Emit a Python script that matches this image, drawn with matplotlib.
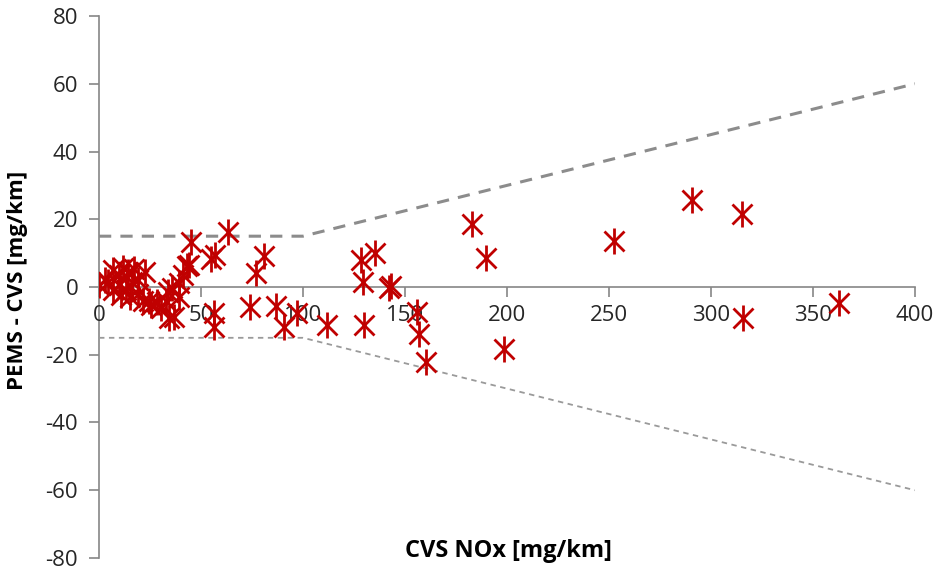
import matplotlib
matplotlib.use("Agg")
import matplotlib.pyplot as plt

# CVS NOx [mg/km] vs PEMS - CVS [mg/km]
cvs_nox = [0, 3, 4.4, 7, 7, 10, 10, 11, 12, 13, 14, 15, 16, 17, 19, 19,
           21.5, 22.5, 24.5, 25.5, 28.4, 30.4, 33, 34, 34.3, 36, 37, 39, 39,
           41, 43, 44, 45, 54.9, 56.4, 56.4, 57, 63.2, 74, 77, 80.9, 86.8,
           90.7, 97, 112, 128.4, 129.4, 130, 135.3, 142, 143, 155.9, 156.9,
           160.3, 182.8, 189.7, 198.5, 252.5, 290.7, 315, 315.7, 362.7]
pems_diff = [0.5, 2, 1.5, 5, -1, 3.5, 0.6, -2.4, 5.5, -1, 4.4, -3, 1.5, 5.3,
             2, -2, -4, 4.4, -4, -5.3, -4.4, -6.2, -4, -1.5, -9.1, -0.3, -9,
             1.2, -3, 3.5, 6.2, 6.5, 13.3, 8.3, -11.8, -7.7, 9.4, 16.2, -5.9,
             4.1, 9.1, -5.6, -11.8, -7.7, -11.2, 8, 1.5, -11.2, 10, -0.3, 0.3,
             -7.4, -13.9, -22, 18.6, 8.6, -18.3, 13.6, 25.7, 21.5, -9.1, -4.7]

# tolerance band
band_x = [0, 100, 400]
band_upper = [15, 15, 60]
band_lower = [-15, -15, -60]

x_ticks = [0, 50, 100, 150, 200, 250, 300, 350, 400]
y_ticks = [-80, -60, -40, -20, 0, 20, 40, 60, 80]

red = "#C00000"
grey = "#868686"
txt = "#262626"

plt.rcParams['font.family'] = ['Open Sans', 'DejaVu Sans']
plt.rcParams['axes.unicode_minus'] = False

fig = plt.figure(figsize=(9.35, 5.74), dpi=100)
ax = fig.add_axes([0.1059, 0.0279, 0.8727, 0.9442])

ax.plot(band_x, band_upper, color="#8c8c8c", lw=2.2, dashes=(4, 3))
ax.plot(band_x, band_lower, color="#9a9a9a", lw=1.3, dashes=(3, 2.5))

ax.plot(cvs_nox, pems_diff, ls="none", marker="x", ms=15, mew=2.0, color=red)
ax.plot(cvs_nox, pems_diff, ls="none", marker="|", ms=19, mew=2.0, color=red)

ax.set_xlim(0, 400)
ax.set_ylim(-80, 80)
ax.set_xticks(x_ticks)
ax.set_yticks(y_ticks)

ax.spines['left'].set_position(('data', 0))
ax.spines['bottom'].set_position(('data', 0))
ax.spines['top'].set_visible(False)
ax.spines['right'].set_visible(False)
for s in ('left', 'bottom'):
    ax.spines[s].set_color(grey)
    ax.spines[s].set_linewidth(1.2)
    ax.spines[s].set_zorder(0)

ax.tick_params(axis='both', colors=grey, length=7, width=1.2, labelsize=16,
               labelcolor=txt)
ax.tick_params(axis='y', pad=8)
ax.tick_params(axis='x', pad=6)

fig.text(508 / 935, 1 - 551 / 574, "CVS NOx [mg/km]", ha="center", va="center",
         fontsize=17, fontweight="bold")
fig.text(18 / 935, 1 - 280 / 574, "PEMS - CVS [mg/km]", ha="center", va="center",
         rotation=90, fontsize=16, fontweight="bold")

fig.savefig("out.png", dpi=100)
